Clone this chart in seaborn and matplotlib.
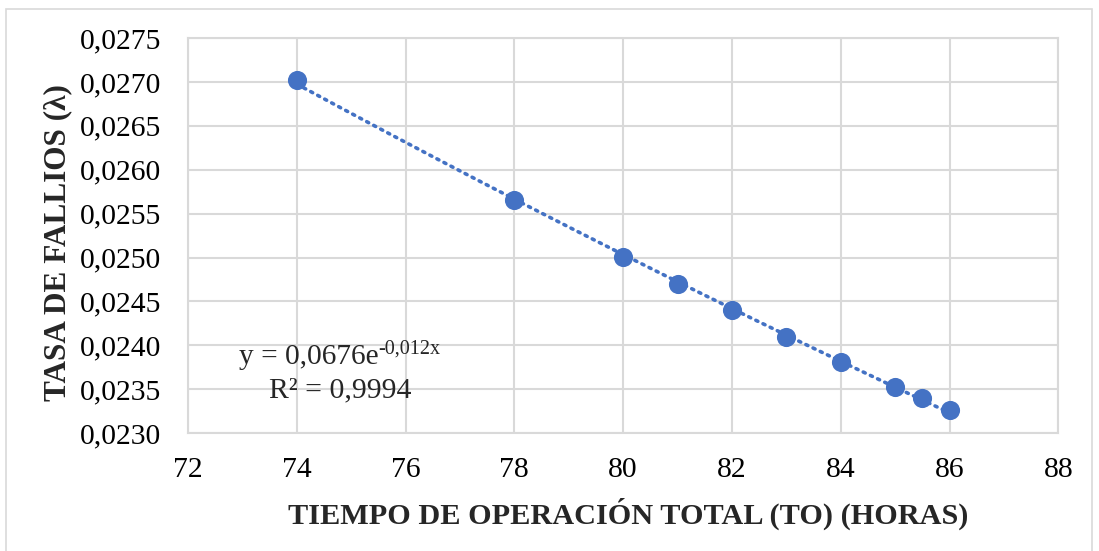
import numpy as np
import pandas as pd
import matplotlib
matplotlib.use('Agg')
import matplotlib.pyplot as plt
import seaborn as sns
from matplotlib.ticker import FuncFormatter
from matplotlib.patches import Rectangle

# Data
tiempo_op = [74, 78, 80, 81, 82, 83, 84, 85, 85.5, 86]
tasa_fallos = [0.02702, 0.02565, 0.02501, 0.02470, 0.02440, 0.02410, 0.02381, 0.02353, 0.02340, 0.02326]

x_ticks = [72, 74, 76, 78, 80, 82, 84, 86, 88]
y_ticks = [0.0230, 0.0235, 0.0240, 0.0245, 0.0250, 0.0255, 0.0260, 0.0265, 0.0270, 0.0275]

eq_base = 'y = 0,0676e'
eq_exp = '-0,012x'
r2_text = 'R² = 0,9994'

df = pd.DataFrame({'TO': tiempo_op, 'lambda': tasa_fallos})

sns.set_style('white')
plt.rcParams['font.family'] = ['Liberation Serif', 'DejaVu Serif']

blue = '#4472C4'
grid_c = '#D9D9D9'

fig = plt.figure(figsize=(10.99, 5.51), dpi=100)
ax = fig.add_axes([0.171, 0.214, 0.792, 0.717])

# Exponential trendline fitted on the data (like Excel's)
b, ln_a = np.polyfit(df['TO'], np.log(df['lambda']), 1)
xs = np.linspace(min(tiempo_op), max(tiempo_op), 200)
ax.plot(xs, np.exp(ln_a) * np.exp(b * xs), color=blue, lw=2.6, ls=(0, (0.6, 1.6)),
        dash_capstyle='round', zorder=2)

sns.scatterplot(data=df, x='TO', y='lambda', ax=ax, color=blue, s=190,
                edgecolor=blue, linewidth=0, zorder=3)

ax.set_xlim(x_ticks[0], x_ticks[-1])
ax.set_ylim(y_ticks[0], y_ticks[-1])
ax.set_xticks(x_ticks)
ax.set_yticks(y_ticks)
ax.xaxis.set_major_formatter(FuncFormatter(lambda v, p: f'{v:.0f}'))
ax.yaxis.set_major_formatter(FuncFormatter(lambda v, p: f'{v:.4f}'.replace('.', ',')))
ax.tick_params(axis='both', length=0, labelsize=21.3, colors='black')
ax.tick_params(axis='x', pad=17)
ax.tick_params(axis='y', pad=19)

ax.grid(True, color=grid_c, lw=1.5)
for sp in ax.spines.values():
    sp.set_color(grid_c)
    sp.set_linewidth(1.5)

ax.set_xlabel('TIEMPO DE OPERACIÓN TOTAL (TO) (HORAS)', fontsize=21.8, fontweight='bold')
ax.xaxis.set_label_coords(0.506, -0.163)
ax.set_ylabel('TASA DE FALLIOS (λ)', fontsize=22.5, fontweight='bold')
ax.yaxis.set_label_coords(-0.133, 0.481)

# trendline equation and R²
base = ax.text(75.5, 0.02387, eq_base, fontsize=21.2, ha='right', va='center')
ax.annotate(eq_exp, xy=(1.0, 0.78), xycoords=base, fontsize=14.5, ha='left', va='center')
ax.text(74.8, 0.02349, r2_text, fontsize=21.4, ha='center', va='center')

# outer chart border
fig.patches.append(Rectangle((0.0055, -0.01), 0.988, 0.994, transform=fig.transFigure,
                             fill=False, edgecolor=grid_c, lw=1.2))

fig.savefig('out.png', dpi=100)
